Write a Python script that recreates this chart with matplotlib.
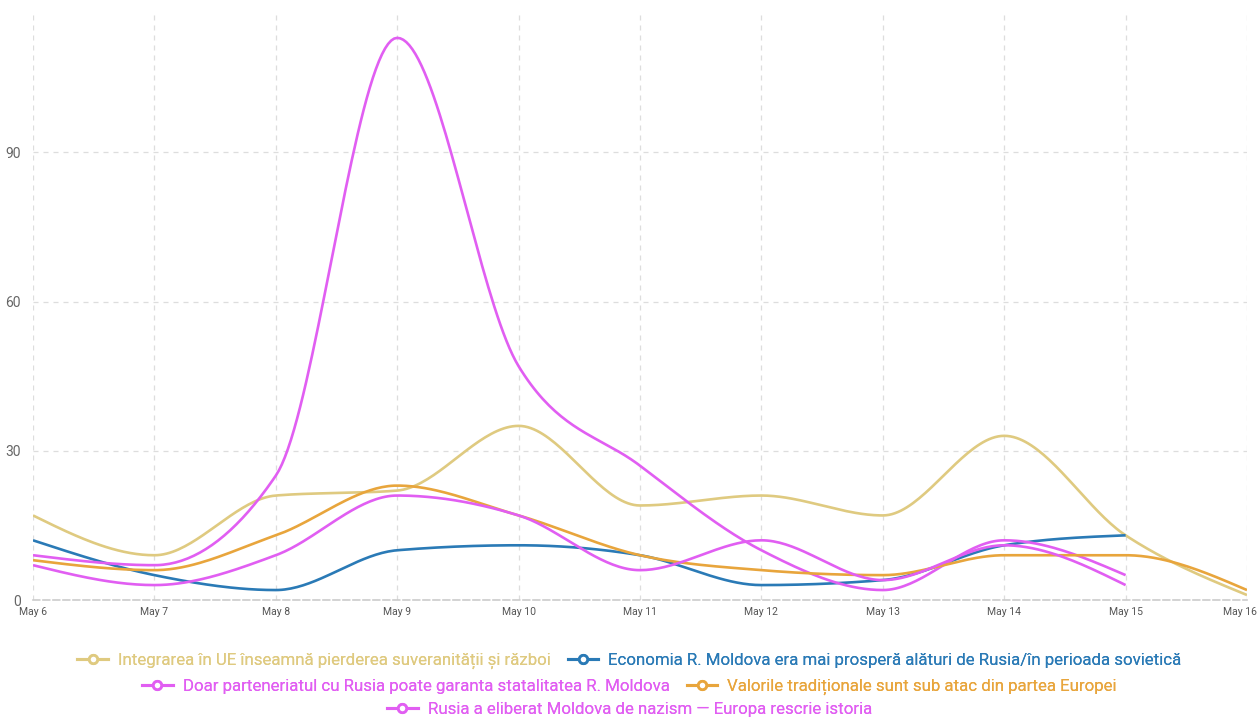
import numpy as np
import matplotlib
matplotlib.use("Agg")
import matplotlib.pyplot as plt
import matplotlib.transforms as mtransforms
from matplotlib.lines import Line2D

days = ["May 6", "May 7", "May 8", "May 9", "May 10", "May 11",
        "May 12", "May 13", "May 14", "May 15", "May 16"]

integrarea = [17, 9, 21, 22, 35, 19, 21, 17, 33, 13, 1]
economia = [12, 5, 2, 10, 11, 9, 3, 4, 11, 13]
parteneriat = [9, 7, 25, 113, 47, 27, 10, 2, 12, 5]
valorile = [8, 6, 13, 23, 17, 9, 6, 5, 9, 9, 2]
rusia = [7, 3, 9, 21, 17, 6, 12, 4, 11, 3]

series = [
    ("Integrarea în UE înseamnă pierderea suveranității și război", integrarea, "#dfca80"),
    ("Economia R. Moldova era mai prosperă alături de Rusia/în perioada sovietică", economia, "#2a7ab6"),
    ("Doar parteneriatul cu Rusia poate garanta statalitatea R. Moldova", parteneriat, "#e15ef2"),
    ("Valorile tradiționale sunt sub atac din partea Europei", valorile, "#e8a53c"),
    ("Rusia a eliberat Moldova de nazism — Europa rescrie istoria", rusia, "#e15ef2"),
]


def monotone(y, n=40):
    # d3 curveMonotoneX style interpolation on unit-spaced x
    y = np.asarray(y, float)
    k = len(y)
    s = np.diff(y)
    t = np.zeros(k)
    for i in range(1, k - 1):
        s0, s1 = s[i - 1], s[i]
        p = (s0 + s1) / 2
        t[i] = (np.sign(s0) + np.sign(s1)) * min(abs(s0), abs(s1), 0.5 * abs(p))
    t[0] = (3 * s[0] - t[1]) / 2 if k > 2 else s[0]
    t[-1] = (3 * s[-1] - t[-2]) / 2 if k > 2 else s[-1]
    xs, ys = [], []
    for i in range(k - 1):
        u = np.linspace(0, 1, n, endpoint=(i == k - 2))
        h00 = 2 * u**3 - 3 * u**2 + 1
        h10 = u**3 - 2 * u**2 + u
        h01 = -2 * u**3 + 3 * u**2
        h11 = u**3 - u**2
        xs.append(i + u)
        ys.append(h00 * y[i] + h10 * t[i] + h01 * y[i + 1] + h11 * t[i + 1])
    return np.concatenate(xs), np.concatenate(ys)


plt.rcParams['font.family'] = ['Roboto', 'DejaVu Sans']

fig = plt.figure(figsize=(12.59, 7.17), dpi=100)
ax = fig.add_axes([33 / 1259, 1 - 600 / 717, (1247 - 33) / 1259, 587 / 717])

for label, vals, col in series:
    xs, ys = monotone(vals)
    ax.plot(xs, ys, color=col, lw=1.9, solid_capstyle='butt', zorder=3)

ax.set_xlim(0, len(days) - 1)
ax.set_ylim(0, 118)
ax.set_xticks(range(len(days)))
ax.set_xticklabels(days, fontsize=7.5, color="#555555")
ax.set_yticks([0, 30, 60, 90])
ax.tick_params(axis='y', labelsize=10, colors="#666666", length=0, pad=9)
ax.tick_params(axis='x', length=0, pad=5)
ax.grid(True, color="#dddddd", linestyle=(0, (4, 4)), lw=0.9)
for sp in ["top", "right", "left"]:
    ax.spines[sp].set_visible(False)
ax.spines["bottom"].set_color("#cccccc")
ax.spines["bottom"].set_linestyle((0, (4, 2)))
ax.spines["bottom"].set_linewidth(1.2)

# keep the last date label inside the figure
last = ax.get_xticklabels()[-1]
last.set_transform(last.get_transform() +
                   mtransforms.ScaledTranslation(-7 / 100, 0, fig.dpi_scale_trans))

handles = [Line2D([], [], color=col, lw=2.2, marker='o', markersize=6,
                  markerfacecolor='white', markeredgewidth=2)
           for _, _, col in series]
labels = [s[0] for s in series]
rows = [(0, 2, 0.078), (2, 4, 0.042), (4, 5, 0.010)]
for a, b, yy in rows:
    leg = fig.legend(handles[a:b], labels[a:b], loc='center', ncol=b - a,
                     bbox_to_anchor=(0.5, yy), frameon=False, fontsize=12.2,
                     handlelength=1.8, handletextpad=0.6, columnspacing=1.0,
                     labelcolor='linecolor')
    fig.add_artist(leg)

fig.savefig("out.png", dpi=100)
